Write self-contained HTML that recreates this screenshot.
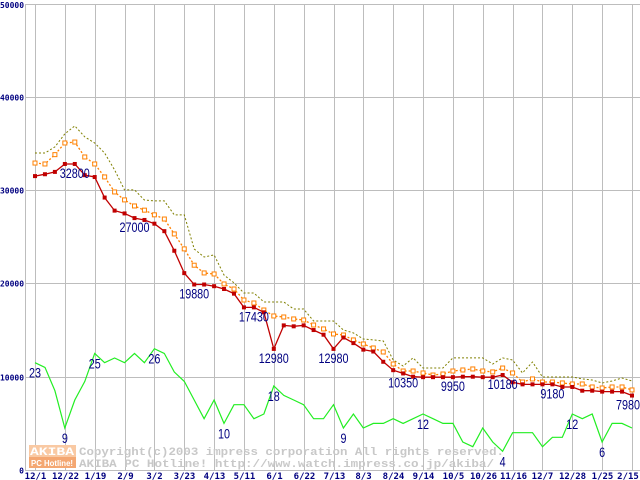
<!DOCTYPE html>
<html><head><meta charset="utf-8"><style>
html,body{margin:0;padding:0;background:#fff;}
svg{display:block;}
</style></head><body>
<svg id="chart" width="640" height="480" viewBox="0 0 640 480" xmlns="http://www.w3.org/2000/svg">
<g id="grid"></g>
<g id="watermark">
  <rect x="29" y="445" width="47" height="12" fill="#f9c9a3"/>
  <rect x="29" y="457" width="47" height="11" fill="#f4a772"/>
  <text x="52" y="455" font-family="Liberation Mono, monospace" font-size="11" font-weight="bold" fill="#fff" text-anchor="middle" textLength="44" lengthAdjust="spacingAndGlyphs">AKIBA</text>
  <text x="52" y="466" font-family="Liberation Sans, sans-serif" font-size="8" font-weight="bold" fill="#fff" text-anchor="middle" textLength="42" lengthAdjust="spacingAndGlyphs">PC Hotline!</text>
  <text x="79" y="455" font-family="Liberation Mono, monospace" font-size="11" font-weight="bold" fill="#c8c8c8" textLength="425" lengthAdjust="spacingAndGlyphs">Copyright(c)2003 impress corporation All rights reserved.</text>
  <text x="79" y="467" font-family="Liberation Mono, monospace" font-size="11" font-weight="bold" fill="#c8c8c8" textLength="415" lengthAdjust="spacingAndGlyphs">AKIBA PC Hotline!  http://www.watch.impress.co.jp/akiba/</text>
</g>
<g id="series"></g>
<g id="labels"></g>
</svg>
<script>
const dates = ['12/1','12/22','1/19','2/9','3/2','3/23','4/13','5/11','6/1','6/22','7/13','8/3','8/24','9/14','10/5','10/26','11/16','12/7','12/28','1/25','2/15'];
const yTicks = [0,10000,20000,30000,40000,50000];
const minPrice = [31500,31700,31950,32800,32800,31600,31400,29200,27800,27500,27000,26800,26400,25600,23500,21100,19880,19880,19700,19400,18900,17430,17430,16900,12980,15500,15400,15500,15000,14500,12980,14200,13600,12900,12700,11600,10700,10350,10000,9950,9950,9950,9950,10000,10000,9950,9950,10180,9400,9180,9180,9180,9180,8900,8900,8500,8500,8400,8400,8400,7980];
const avgPrice = [32900,32800,33800,35050,35150,33550,32800,31410,29800,28950,28300,27850,27350,26900,25300,23700,21950,21120,21010,19940,19400,18220,17900,17150,16510,16400,16190,16080,15540,15120,14580,14470,13940,13510,13080,12650,11360,10610,10610,10400,10180,10290,10610,10720,10830,10610,10510,10930,10400,9430,9760,9430,9430,9330,9220,9220,8900,8790,8900,8900,8580];
const maxPrice = [33980,33980,34630,36020,36880,35700,35050,33980,32160,30020,30020,28940,28840,28840,27340,27340,23690,22830,23050,20900,20050,18970,18970,18010,18010,18010,17260,17260,15970,15970,15970,15010,14690,14040,13940,13830,11790,11150,12010,10930,10930,10930,12010,12010,12010,12010,11360,12010,11790,10400,11580,9970,9970,9970,9970,9760,9650,9330,9540,9860,9540];
const shopCount = [23,22,17,9,15,19,25,23,24,23,25,23,26,25,21,19,15,11,15,10,14,14,11,12,18,16,15,14,11,11,14,9,12,9,10,10,11,10,11,12,11,10,10,6,5,9,6,4,8,8,8,5,7,7,12,11,12,6,10,10,9];
const priceLabelIdx = [4,10,16,22,24,30,37,42,47,52,60];
const countLabelIdx = [0,3,6,12,19,24,31,39,47,54,57];

const NS='http://www.w3.org/2000/svg';
const X0=35, DX=9.95, Y0=470, YTOP=3.5;
function xs(i){return X0+i*DX;}
function yPrice(v){return Y0-v/50000*(Y0-YTOP);}
function yCount(c){return Y0-c*(Y0-YTOP)/100;}
function mk(tag,attrs,parent){const e=document.createElementNS(NS,tag);for(const k in attrs)e.setAttribute(k,attrs[k]);parent.appendChild(e);return e;}
const grid=document.getElementById('grid'), series=document.getElementById('series'), labels=document.getElementById('labels');

yTicks.forEach(function(t){
  const y=Math.round(yPrice(t))+0.5;
  const l=mk('line',{x1:25,x2:640,y1:y,y2:y,stroke:'#bdbdbd','stroke-width':1},grid);
  
  
  const tx=mk('text',{x:t===0?24:0,y:t===50000?8:y+3,'font-family':'DejaVu Sans Mono, monospace','font-size':8,'font-weight':'bold',fill:'#000080','text-anchor':t===0?'end':'start'},grid);
  if(t!==0){tx.setAttribute('textLength',24);tx.setAttribute('lengthAdjust','spacingAndGlyphs');}
  tx.textContent=String(t);
  
  
});
const ax=mk('line',{x1:25.5,x2:25.5,y1:4,y2:470,stroke:'#bdbdbd','stroke-width':1},grid);


dates.forEach(function(d,k){
  const x=Math.round(xs(k*3))+0.5;
  const l=mk('line',{x1:x,x2:x,y1:4,y2:470,stroke:'#bdbdbd','stroke-width':1},grid);
  
  
  const tx=mk('text',{x:Math.min(x,628),y:479,'font-family':'DejaVu Sans Mono, monospace','font-size':9,'font-weight':'bold',fill:'#000080','text-anchor':'middle'},grid);
  tx.textContent=d;
  
  
});

function pts(arr,f){return arr.map(function(v,i){return xs(i).toFixed(1)+','+f(v).toFixed(1);}).join(' ');}
const gl=mk('polyline',{points:pts(shopCount,yCount),fill:'none',stroke:'#22ee22','stroke-width':1.2},series);


const ol=mk('polyline',{points:pts(maxPrice,yPrice),fill:'none',stroke:'#808000','stroke-width':1,'stroke-dasharray':'2,2'},series);


const al=mk('polyline',{points:pts(avgPrice,yPrice),fill:'none',stroke:'#ff8000','stroke-width':1.3,'stroke-dasharray':'2,2'},series);


avgPrice.forEach(function(v,i){
  const r=mk('rect',{x:xs(i)-2,y:yPrice(v)-2,width:4,height:4,fill:'#fff',stroke:'#ff8000','stroke-width':1},series);
  
  
});
const rl=mk('polyline',{points:pts(minPrice,yPrice),fill:'none',stroke:'#c00000','stroke-width':1.3},series);


minPrice.forEach(function(v,i){
  const r=mk('rect',{x:xs(i)-2,y:yPrice(v)-2,width:4,height:4,fill:'#c00000'},series);
  
  
});

function label(x,y,txt,name){
  const w=txt.length*6;
  let cx=x; if(cx+w/2>640)cx=640-w/2;
  const t=mk('text',{x:cx,y:y,'font-family':'Liberation Sans, sans-serif','font-size':14,fill:'#000080','text-anchor':'middle',textLength:w,lengthAdjust:'spacingAndGlyphs'},labels);
  t.textContent=txt;
  
  
}
priceLabelIdx.forEach(function(i){label(xs(i),yPrice(minPrice[i])+14,String(minPrice[i]),'min-price-label');});
countLabelIdx.forEach(function(i){label(xs(i),yCount(shopCount[i])+15,String(shopCount[i]),'shop-count-label');});
</script>
</body></html>
